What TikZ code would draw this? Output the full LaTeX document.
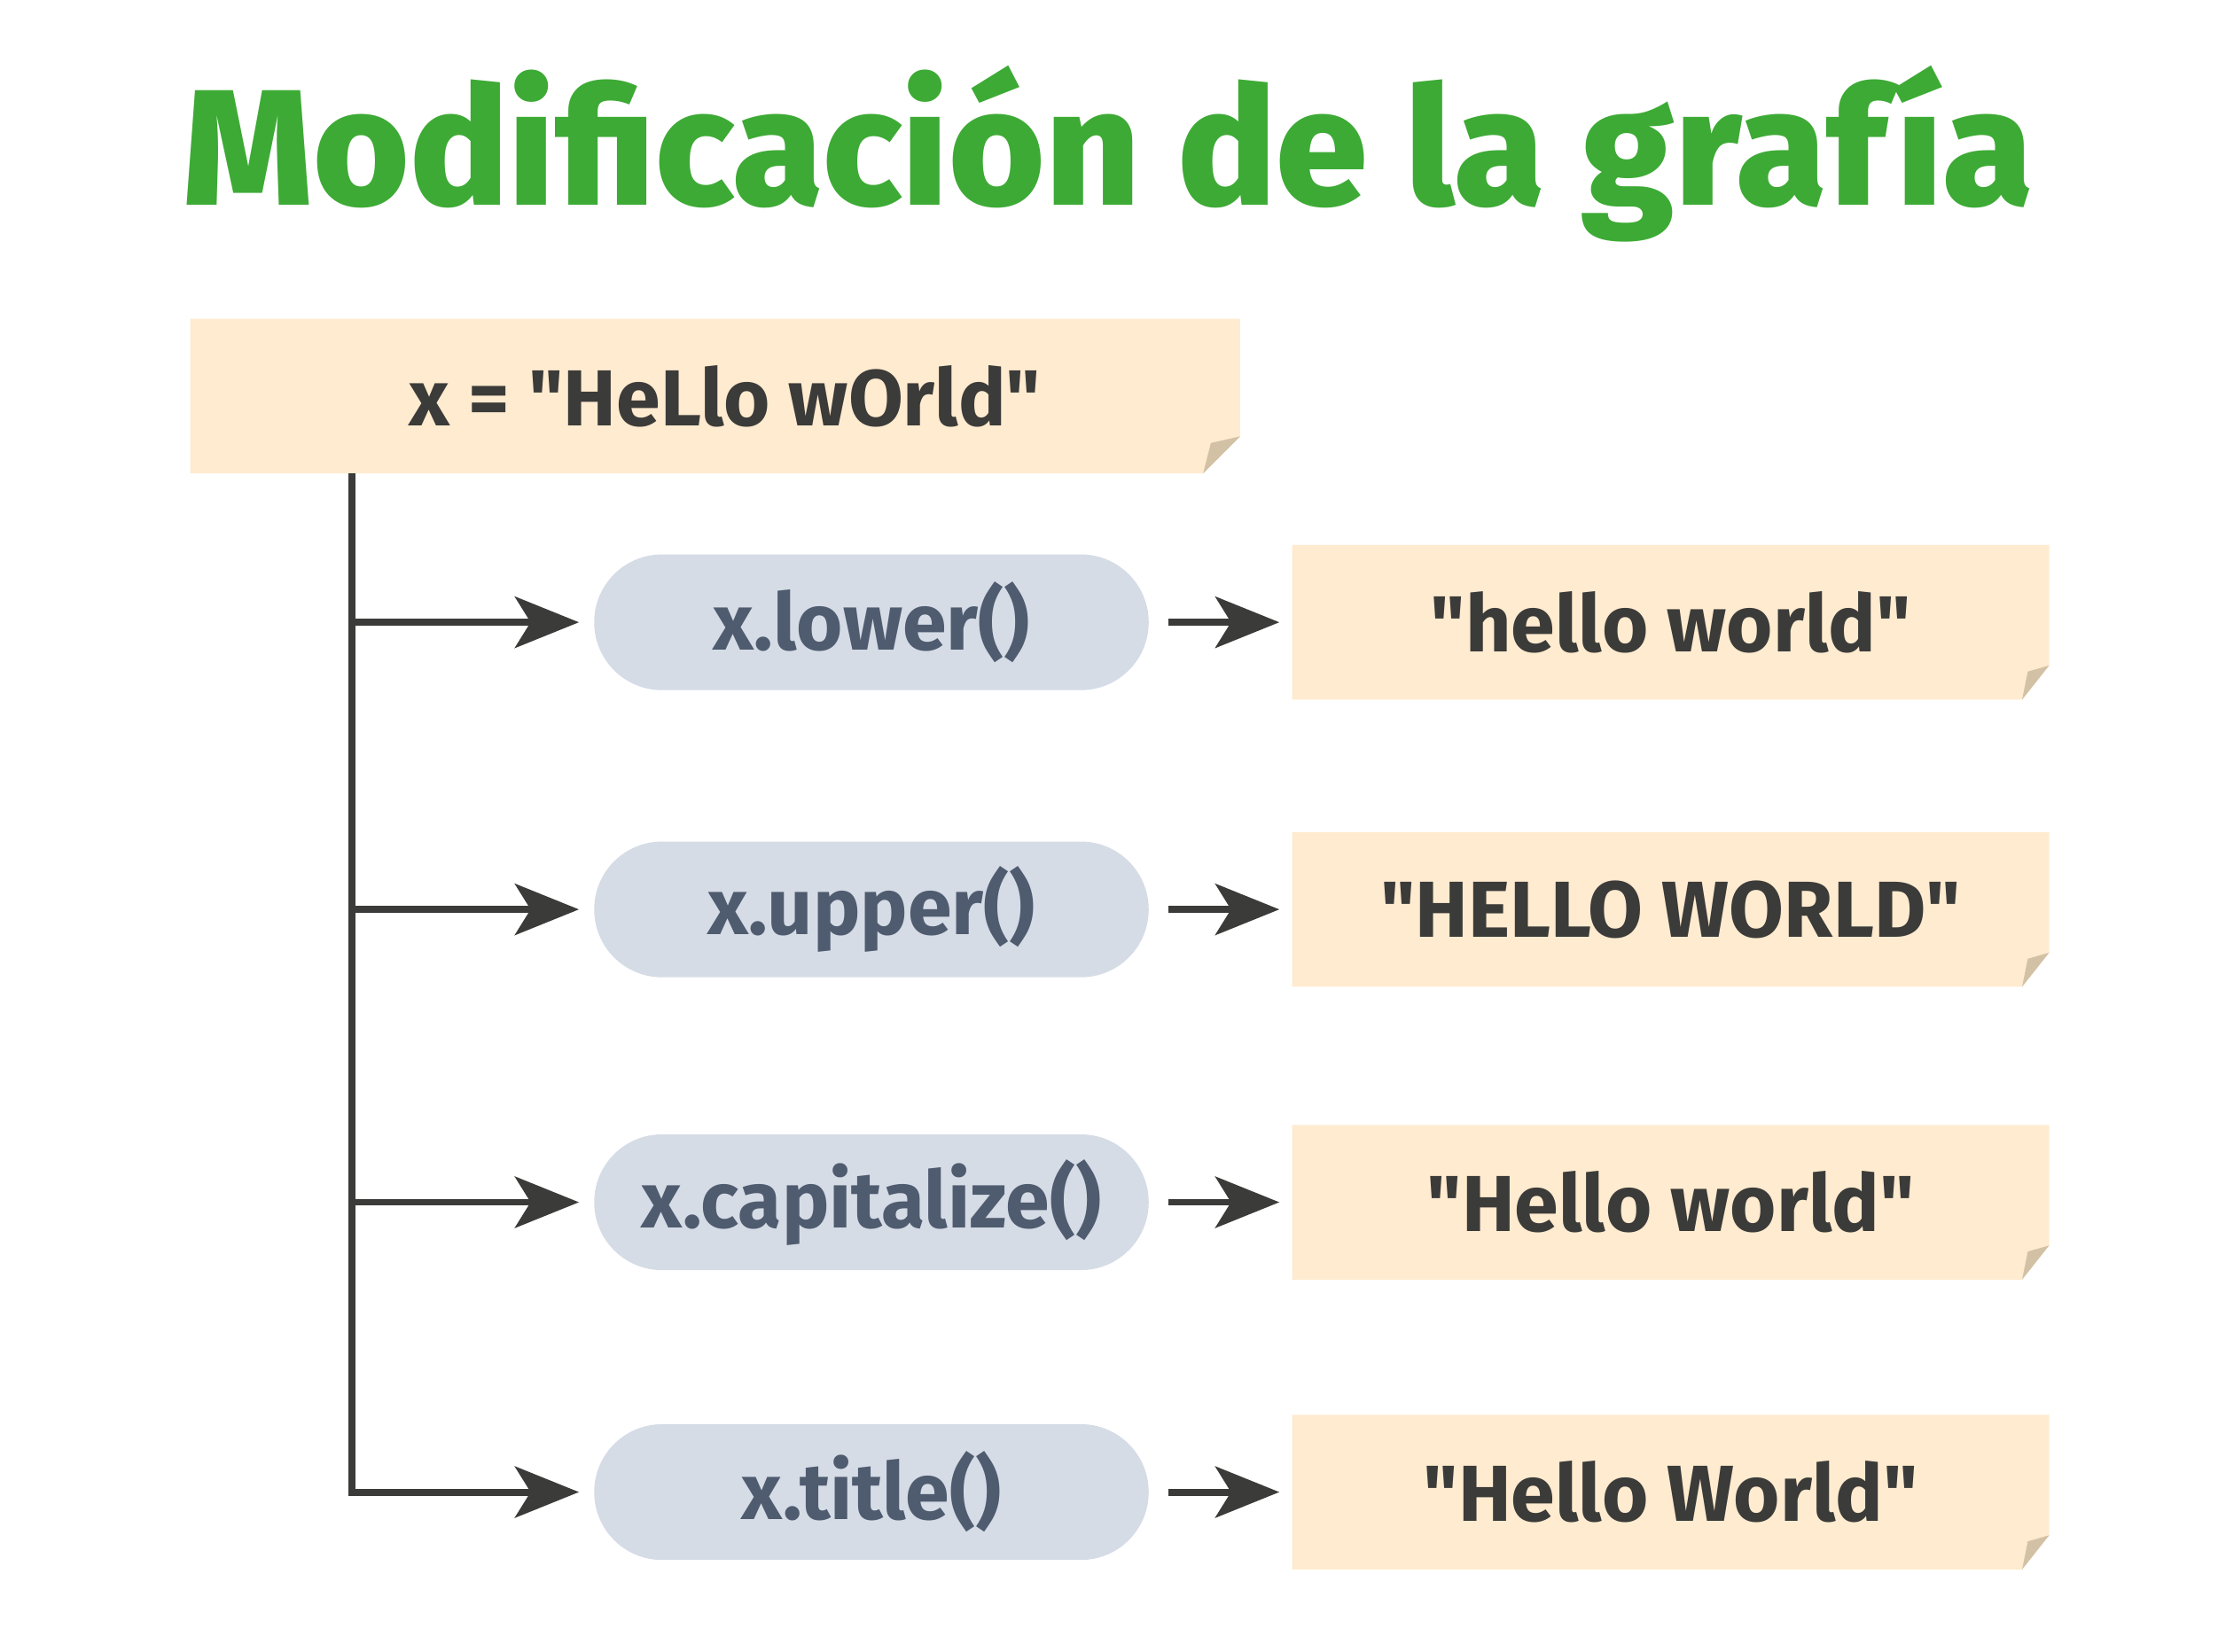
\documentclass[tikz,border=0pt]{standalone}
\usepackage{fontspec}
\setmainfont{Fira Sans}[Ligatures=TeXOff]
\IfFontExistsTF{Fira Sans ExtraBold}
  {\newfontfamily\titlefont{Fira Sans ExtraBold}[Ligatures=TeXOff]}
  {\newfontfamily\titlefont{Fira Sans}[Ligatures=TeXOff, UprightFont=*, UprightFeatures={FakeBold=1.2}]}
\usetikzlibrary{arrows.meta,backgrounds}

\definecolor{titlegreen}{HTML}{3DAA35}
\definecolor{notefill}{HTML}{FFEBCF}
\definecolor{notefold}{HTML}{D3C1A5}
\definecolor{pillfill}{HTML}{D5DCE6}
\definecolor{pilltext}{HTML}{4F5B6F}
\definecolor{ink}{HTML}{3B3B39}

\tikzset{
  note/.style={minimum width=5.31cm, minimum height=1.074cm, inner sep=0pt,
    text=ink, font=\fontsize{15.9}{19}\selectfont\bfseries},
  method/.style={fill=pillfill, rounded corners=4.77mm, minimum width=3.9cm,
    minimum height=0.955cm, inner sep=0pt, text=pilltext,
    font=\fontsize{15.9}{19}\selectfont\bfseries},
  link/.style={draw=ink, line width=1.4pt,
    -{Stealth[length=4.5mm, width=3.6mm, inset=1.1mm]}},
}

% paper note with a folded corner: node, corner width, corner height
\newcommand{\notebg}[3]{%
  \fill[notefill] (#1.north west) -- (#1.north east) -- ([yshift=#3]#1.south east)
    -- ([xshift=-#2]#1.south east) -- (#1.south west) -- cycle;
  \fill[notefold] ([yshift=#3]#1.south east)
    -- ([xshift=-0.79*#2, yshift=0.82*#3]#1.south east)
    -- ([xshift=-#2]#1.south east) -- cycle;}

\begin{document}
\begin{tikzpicture}
  \useasboundingbox (0,0) rectangle (15.6,11.616);

  % Title
  \node[anchor=base, text=titlegreen, font=\fontsize{33}{40}\selectfont\titlefont]
    (title) at (7.796,10.173) {Modificación de la grafía};

  % Original string
  \node[note, minimum width=7.37cm, minimum height=1.074cm] (src) at (5.03,8.83)
    {\hspace*{1.4mm}x = "HeLlo wOrld"};
  \coordinate (trunk) at ([xshift=11.35mm]src.south west);

  % Methods and their results
  \foreach \y/\meth/\res [count=\i] in {7.238/x.lower()/"hello world",
      5.218/x.upper()/"HELLO WORLD", 3.158/x.capitalize()/"Hello world",
      1.119/x.title()/"Hello World"}
  {
    \node[method] (m\i) at (6.129,\y) {\meth};
    \node[note] (r\i) at (11.75,\y) {\res};
    \draw[link] (trunk) |- ([xshift=-1mm]m\i.west);
    \draw[link] ([xshift=1.3mm]m\i.east) -- ([xshift=-0.9mm]r\i.west);
  }

  % Note backgrounds
  \begin{scope}[on background layer]
    \notebg{src}{0.26cm}{0.26cm}
    \foreach \i in {1,...,4} {\notebg{r\i}{0.19cm}{0.24cm}}
  \end{scope}
\end{tikzpicture}
\end{document}
